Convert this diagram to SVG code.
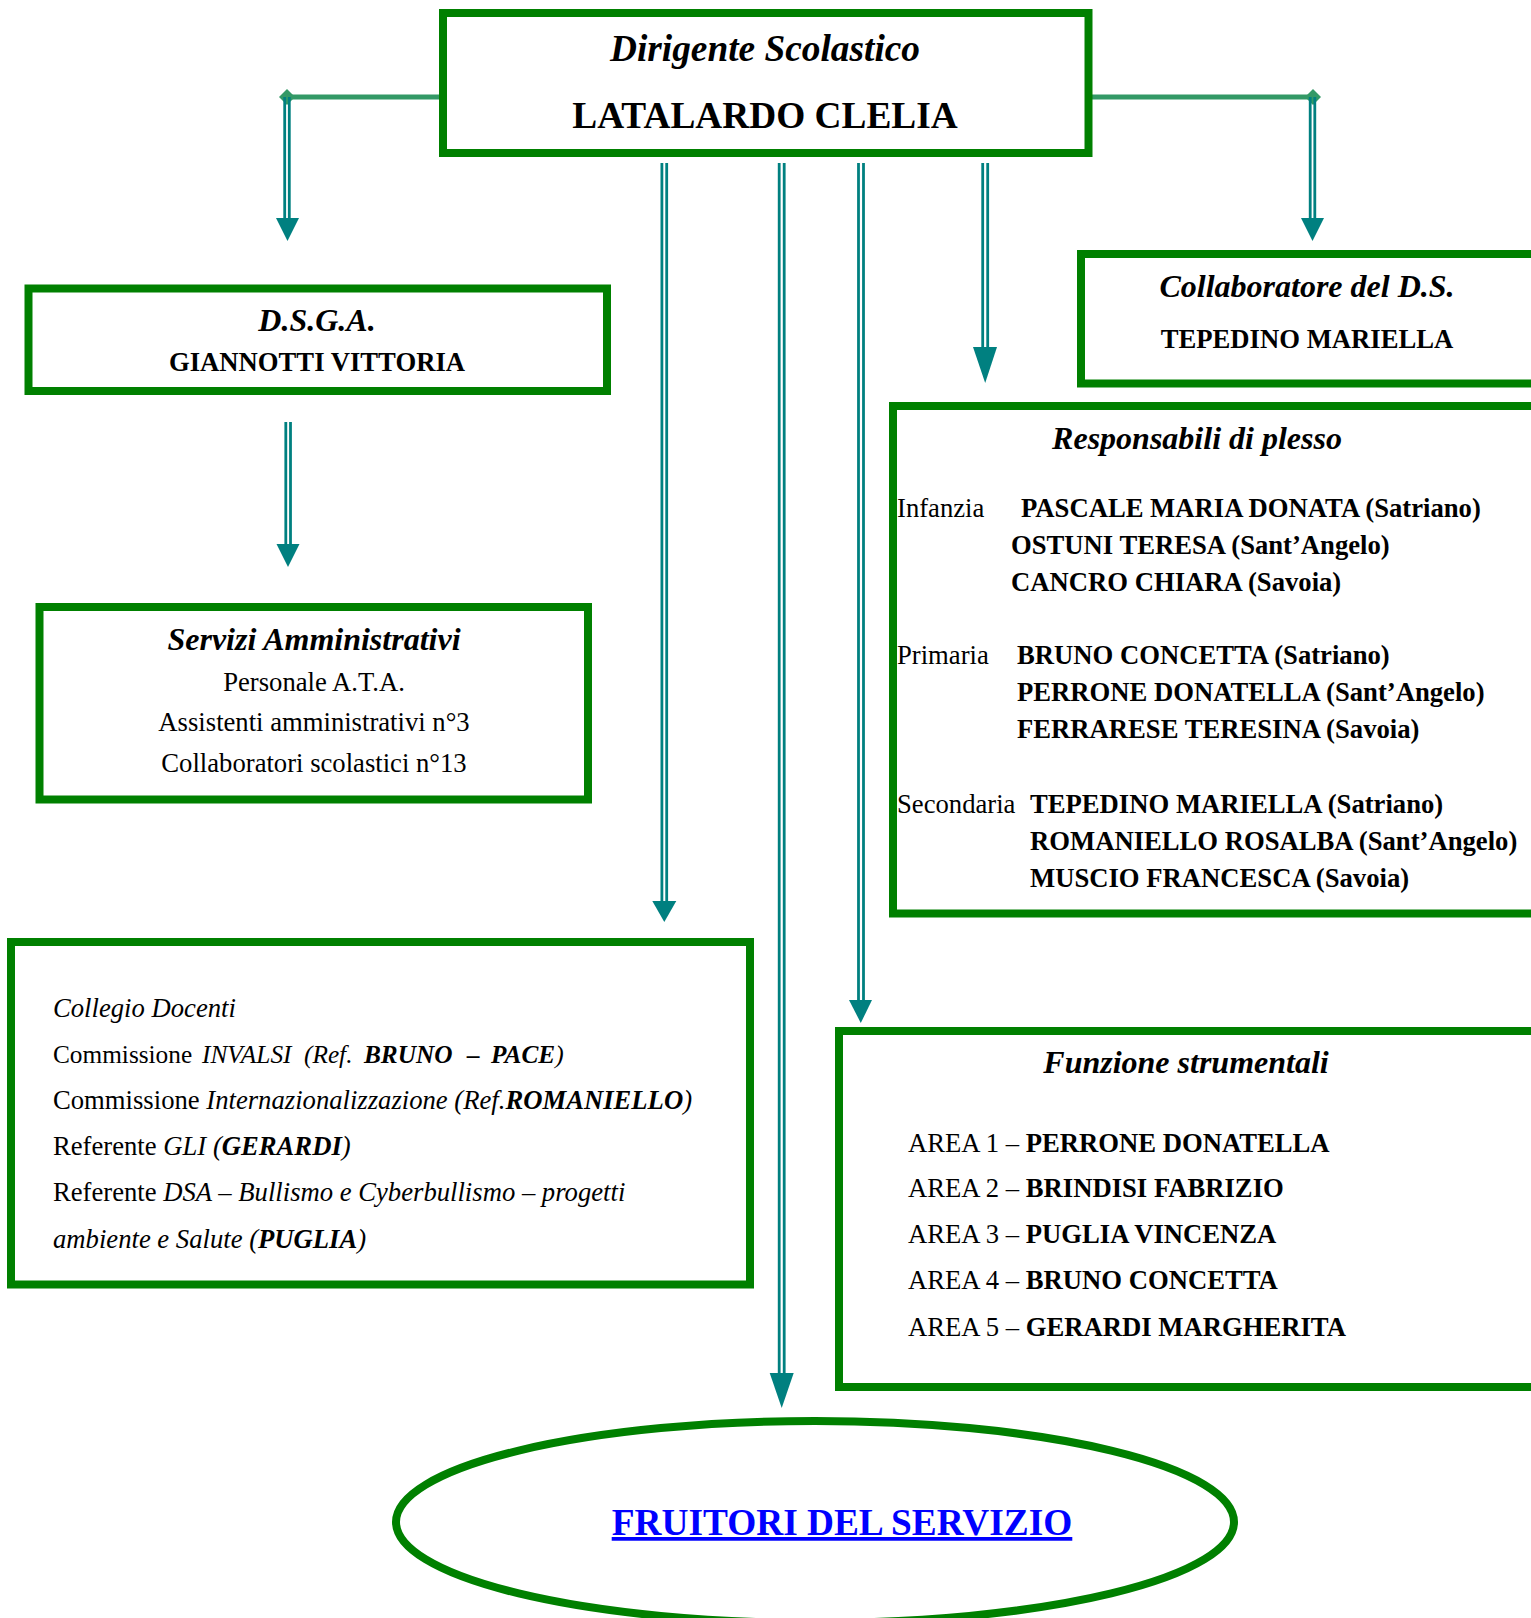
<svg xmlns="http://www.w3.org/2000/svg" width="1531" height="1618" viewBox="0 0 1531 1618">
<style>
.box{fill:#fff;stroke:#008000;stroke-width:8}
.t{font-family:"Liberation Serif","Times New Roman",serif;fill:#000}
.s26{font-size:26.67px}
.s32{font-size:32px}
.s37{font-size:37.33px}
.b{font-weight:bold}
.i{font-style:italic}
.c{text-anchor:middle}
.shaft{stroke:#008080;stroke-width:2.8;fill:none}
.head{fill:#008080}
.link{stroke:#339966;stroke-width:5;fill:none}
.dia{fill:#339966}
.oval{fill:#fff;stroke:#008000;stroke-width:8}
.lnk{fill:#0000ff;text-decoration:underline}
</style>
<rect width="1531" height="1618" fill="#fff"/>

<g id="connectors">
  <line class="link" x1="287" y1="97" x2="440" y2="97"/>
  <polygon class="dia" points="279,97 287,89 295,97 287,105"/>
  <line class="shaft" x1="284.7" y1="97" x2="284.7" y2="220"/>
  <line class="shaft" x1="289.3" y1="97" x2="289.3" y2="220"/>
  <polygon class="head" points="276,218 299,218 287.5,241"/>

  <line class="link" x1="1091" y1="97" x2="1313" y2="97"/>
  <polygon class="dia" points="1305,97 1313,89 1321,97 1313,105"/>
  <line class="shaft" x1="1310.2" y1="97" x2="1310.2" y2="220"/>
  <line class="shaft" x1="1314.8" y1="97" x2="1314.8" y2="220"/>
  <polygon class="head" points="1301,218 1324,218 1312.5,241"/>

  <line class="shaft" x1="661.9" y1="163" x2="661.9" y2="903"/>
  <line class="shaft" x1="666.7" y1="163" x2="666.7" y2="903"/>
  <polygon class="head" points="652.3,901 676.3,901 664.3,922"/>

  <line class="shaft" x1="779.2" y1="163" x2="779.2" y2="1375"/>
  <line class="shaft" x1="784.2" y1="163" x2="784.2" y2="1375"/>
  <polygon class="head" points="769.7,1373 793.7,1373 781.7,1408"/>

  <line class="shaft" x1="858.5" y1="163" x2="858.5" y2="1002"/>
  <line class="shaft" x1="863.5" y1="163" x2="863.5" y2="1002"/>
  <polygon class="head" points="849,1000 872,1000 860.8,1023"/>

  <line class="shaft" x1="982.7" y1="163" x2="982.7" y2="349"/>
  <line class="shaft" x1="987.7" y1="163" x2="987.7" y2="349"/>
  <polygon class="head" points="973,347 997,347 985.2,383"/>

  <line class="shaft" x1="285.8" y1="422" x2="285.8" y2="546"/>
  <line class="shaft" x1="290.5" y1="422" x2="290.5" y2="546"/>
  <polygon class="head" points="276.5,544 299.5,544 288,567"/>
</g>

<g id="dirigente">
  <rect class="box" x="443" y="13" width="645.5" height="140"/>
  <text class="t s37 b i c" x="765" y="61">Dirigente Scolastico</text>
  <text class="t s37 b c" x="765" y="128">LATALARDO CLELIA</text>
</g>

<g id="dsga">
  <rect class="box" x="28.5" y="288.5" width="578.5" height="102.5"/>
  <text class="t s32 b i c" x="317" y="331">D.S.G.A.</text>
  <text class="t s26 b c" x="317" y="371">GIANNOTTI VITTORIA</text>
</g>

<g id="collaboratore">
  <rect class="box" x="1081" y="254" width="459" height="129.5"/>
  <text class="t s32 b i c" x="1307" y="297">Collaboratore del D.S.</text>
  <text class="t s26 b c" x="1307" y="348">TEPEDINO MARIELLA</text>
</g>

<g id="servizi">
  <rect class="box" x="39.5" y="607" width="548.5" height="192.5"/>
  <text class="t s32 b i c" x="314" y="650">Servizi Amministrativi</text>
  <text class="t s26 c" x="314" y="691">Personale A.T.A.</text>
  <text class="t s26 c" x="314" y="731">Assistenti amministrativi n°3</text>
  <text class="t s26 c" x="314" y="772">Collaboratori scolastici n°13</text>
</g>

<g id="responsabili">
  <rect class="box" x="893" y="406" width="647" height="507.5"/>
  <text class="t s32 b i c" x="1197" y="449">Responsabili di plesso</text>
  <text class="t s26" x="897" y="517">Infanzia</text>
  <text class="t s26 b" x="1021" y="517">PASCALE MARIA DONATA (Satriano)</text>
  <text class="t s26 b" x="1011" y="554">OSTUNI TERESA (Sant’Angelo)</text>
  <text class="t s26 b" x="1011" y="591">CANCRO CHIARA (Savoia)</text>
  <text class="t s26" x="897" y="664">Primaria</text>
  <text class="t s26 b" x="1017" y="664">BRUNO CONCETTA (Satriano)</text>
  <text class="t s26 b" x="1017" y="701">PERRONE DONATELLA (Sant’Angelo)</text>
  <text class="t s26 b" x="1017" y="738">FERRARESE TERESINA (Savoia)</text>
  <text class="t s26" x="897" y="813">Secondaria</text>
  <text class="t s26 b" x="1030" y="813">TEPEDINO MARIELLA (Satriano)</text>
  <text class="t s26 b" x="1030" y="850">ROMANIELLO ROSALBA (Sant’Angelo)</text>
  <text class="t s26 b" x="1030" y="887">MUSCIO FRANCESCA (Savoia)</text>
</g>

<g id="collegio">
  <rect class="box" x="11" y="942" width="739" height="342.5"/>
  <text class="t s26 i" x="53" y="1017">Collegio Docenti</text>
  <text class="t" style="font-size:25.3px" y="1063"><tspan x="53">Commissione</tspan><tspan class="i" x="202">INVALSI</tspan><tspan class="i" x="304">(Ref.</tspan><tspan class="b i" x="364">BRUNO</tspan><tspan class="b i" x="467">–</tspan><tspan class="b i" x="491">PACE</tspan><tspan class="i">)</tspan></text>
  <text class="t s26" x="53" y="1109">Commissione <tspan class="i">Internazionalizzazione (Ref.</tspan><tspan class="b i">ROMANIELLO</tspan><tspan class="i">)</tspan></text>
  <text class="t s26" x="53" y="1155">Referente <tspan class="i">GLI (</tspan><tspan class="b i">GERARDI</tspan><tspan class="i">)</tspan></text>
  <text class="t s26" x="53" y="1201">Referente <tspan class="i">DSA – Bullismo e Cyberbullismo – progetti</tspan></text>
  <text class="t s26 i" x="53" y="1248">ambiente e Salute (<tspan class="b">PUGLIA</tspan>)</text>
</g>

<g id="funzione">
  <rect class="box" x="839" y="1031" width="701" height="356"/>
  <text class="t s32 b i c" x="1186" y="1073">Funzione strumentali</text>
  <text class="t s26" x="908" y="1152">AREA 1 – <tspan class="b">PERRONE DONATELLA</tspan></text>
  <text class="t s26" x="908" y="1197">AREA 2 – <tspan class="b">BRINDISI FABRIZIO</tspan></text>
  <text class="t s26" x="908" y="1243">AREA 3 – <tspan class="b">PUGLIA VINCENZA</tspan></text>
  <text class="t s26" x="908" y="1289">AREA 4 – <tspan class="b">BRUNO CONCETTA</tspan></text>
  <text class="t s26" x="908" y="1336">AREA 5 – <tspan class="b">GERARDI MARGHERITA</tspan></text>
</g>

<g id="fruitori">
  <ellipse class="oval" cx="815" cy="1522" rx="419" ry="101"/>
  <text class="t s37 b c lnk" x="842" y="1535">FRUITORI DEL SERVIZIO</text>
</g>
</svg>
